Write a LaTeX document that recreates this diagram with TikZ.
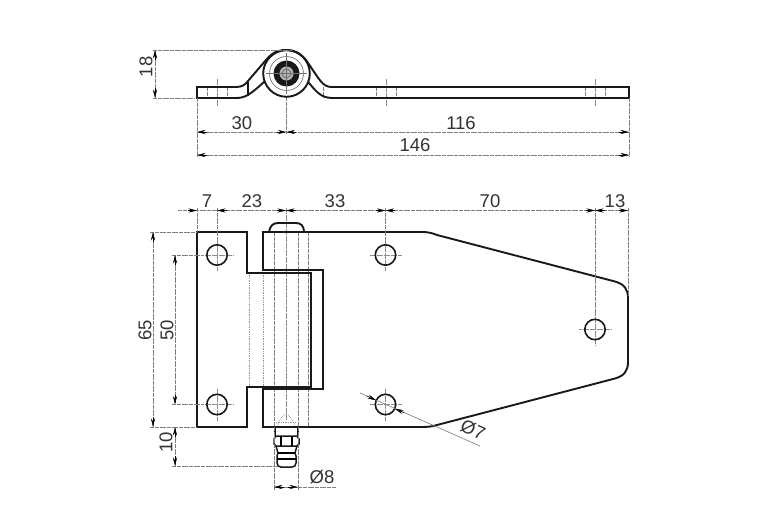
\documentclass[tikz,border=0pt]{standalone}
\usepackage{fontspec}
\setmainfont{Liberation Sans}
\usetikzlibrary{arrows.meta}
\tikzset{
  outl/.style={line width=1.9pt,black!90,line join=miter},
  thinl/.style={line width=0.7pt,black!50,dash pattern=on 2pt off 0.4pt},
  cline/.style={line width=0.7pt,black!45,dash pattern=on 3pt off 0.5pt},
  hid/.style={line width=0.7pt,black!40,densely dotted},
  dimtip/.style={line width=0.5pt,black,-{Stealth[length=8.5pt,width=4.2pt]}},
  lbl/.style={font=\fontsize{18.5}{18.5}\selectfont,text=black!80,inner sep=0pt,anchor=center}
}
\newcommand{\holemark}[2]{%
  \draw[cline] (#1-16,#2)--(#1+16,#2) (#1,#2-16)--(#1,#2+16);
  \draw[line width=1.6pt,black!90] (#1,#2) circle (10.2);}
\begin{document}
\begin{tikzpicture}[x=1pt,y=-1pt]
\useasboundingbox (0,0) rectangle (782,529);
\fill[white] (0,0) rectangle (782,529);

% ---------- top view ----------
\foreach \xx in {217,386,595}{
  \draw[cline] (\xx,79)--(\xx,107);
  \draw[thinl] (\xx-10,87)--(\xx-10,98) (\xx+10,87)--(\xx+10,98);
}
\draw[thinl] (323,87)--(323,98);
\draw[thinl] (286.5,97)--(286.5,134);
% leaf
\draw[outl] (308,82) .. controls (314,88) and (319,98) .. (332,98) -- (629,98) -- (629,87) -- (332,87)
  .. controls (322,87) and (320,80) .. (306,60) .. controls (300,53) and (295,50) .. (286,50)
  .. controls (277,50) and (272,53) .. (266,60) -- (248,81) .. controls (245,85) and (242,87) .. (236,87)
  -- (197,87) -- (197,98) -- (236,98) .. controls (245,98) and (250,95) .. (265,81);
\draw[outl,line width=1.3pt] (248,82)--(248,96);
% knuckle
\draw[outl] (286.5,73.5) circle (23.3);
\draw[line width=0.6pt,black!60] (286.5,73.5) circle (17);
\fill[black!90] (286.5,73.5) circle (13);
\fill[black!30] (286.5,73.5) circle (7);
\draw[line width=0.6pt,black!65] (286.5,73.5) circle (4.5);
\draw[line width=0.6pt,black!55] (266,73.5)--(307,73.5) (286.5,53)--(286.5,94);

% ---------- dimensions top view ----------
\draw[thinl] (153,50)--(292,50) (153,98)--(195,98);
\draw[thinl] (197,98)--(197,157) (629,98)--(629,157);
\draw[thinl] (155,50)--(155,98);
\draw[dimtip] (155,60)--(155,50);
\draw[dimtip] (155,88)--(155,98);
\node[lbl,rotate=90] (d18) at (146,67) {18};
\draw[thinl] (197,132)--(629,132) (197,155)--(629,155);
\draw[dimtip] (207,132)--(197,132);
\draw[dimtip] (277,132)--(286.5,132);
\draw[dimtip] (296,132)--(286.5,132);
\draw[dimtip] (619,132)--(629,132);
\draw[dimtip] (207,155)--(197,155);
\draw[dimtip] (619,155)--(629,155);
\node[lbl] (d30) at (242,123) {30};
\node[lbl] (d116) at (461,123) {116};
\node[lbl] (d146) at (415,145) {146};

% ---------- front view ----------
\draw[hid] (249,273)--(249,387) (263,273)--(263,387);
\draw[thinl] (274,232)--(274,427) (298,232)--(298,427) (308,232)--(308,427);
\draw[cline] (286,208)--(286,420);
\draw[hid] (277,427) .. controls (279,419) and (283,415) .. (286,414) .. controls (289,415) and (293,419) .. (295,427);
\draw[hid] (276,422)--(296,422);
% left leaf
\draw[outl] (197,232) -- (247,232) -- (247,273) -- (311,273) -- (311,387) -- (247,387) -- (247,427) -- (197,427) -- cycle;
% right leaf
\draw[outl] (263,270) -- (323,270) -- (323,389) -- (263,389) -- (263,427) -- (422,427)
  .. controls (428,427) and (432,426.5) .. (437,425) -- (615,378.5) .. controls (624,376) and (628,371) .. (628,362)
  -- (628,298) .. controls (628,289) and (624,284) .. (615,281.5) -- (437,235) .. controls (432,233) and (428,232) .. (422,232)
  -- (263,232) -- cycle;
% pin head
\draw[outl] (269,232) .. controls (270,226) and (273,223) .. (278,223) -- (296,223) .. controls (301,223) and (304,226) .. (304,232);
% holes
\holemark{217}{255}
\holemark{217}{404.5}
\holemark{385.5}{255}
\holemark{385.5}{404.5}
\holemark{595}{329.5}
% grease nipple
\draw[outl,line width=1.5pt] (275,427)--(275,436) (298,427)--(298,436);
\draw[outl,line width=1.5pt] (276,436) -- (297,436) -- (299,439) -- (299,444) -- (297,446) -- (276,446) -- (274,444) -- (274,439) -- cycle;
\draw[line width=1.1pt] (281,436)--(281,446) (292,436)--(292,446);
\draw[outl,line width=1.5pt] (276,446) -- (278,453) -- (277,456) -- (277,463) .. controls (277,466) and (279,467) .. (281,467) -- (292,467)
  .. controls (294,467) and (296,466) .. (296,463) -- (296,456) -- (295,453) -- (297,446);
\draw[line width=1.1pt] (278,453)--(295,453) (277,459)--(296,459);

% ---------- dimensions front view ----------
\draw[thinl] (178,210.5)--(628,210.5);
\draw[thinl] (197,208)--(197,232) (628,208)--(628,296) (217,208)--(217,239) (385.5,208)--(385.5,239) (595,208)--(595,314);
\draw[dimtip] (188,210.5)--(197,210.5);
\draw[dimtip] (227,210.5)--(217,210.5);
\draw[dimtip] (277,210.5)--(286,210.5);
\draw[dimtip] (296,210.5)--(286,210.5);
\draw[dimtip] (376,210.5)--(385.5,210.5);
\draw[dimtip] (395,210.5)--(385.5,210.5);
\draw[dimtip] (586,210.5)--(595,210.5);
\draw[dimtip] (605,210.5)--(595,210.5);
\draw[dimtip] (619,210.5)--(628,210.5);
\node[lbl] (d7) at (207,201) {7};
\node[lbl] (d23) at (252,201) {23};
\node[lbl] (d33) at (335,201) {33};
\node[lbl] (d70) at (490,201) {70};
\node[lbl] (d13) at (615,201) {13};

\draw[thinl] (150,232)--(197,232) (150,427)--(197,427);
\draw[thinl] (172,255)--(201,255) (172,404.5)--(201,404.5) (172,466)--(277,466);
\draw[thinl] (153,232)--(153,427) (175,255)--(175,404.5) (175,427)--(175,466);
\draw[dimtip] (153,242)--(153,232);
\draw[dimtip] (153,417)--(153,427);
\draw[dimtip] (175,265)--(175,255);
\draw[dimtip] (175,395)--(175,404.5);
\draw[dimtip] (175,437)--(175,427);
\draw[dimtip] (175,456)--(175,466);
\node[lbl,rotate=90] (d65) at (145,330) {65};
\node[lbl,rotate=90] (d50) at (167,330) {50};
\node[lbl,rotate=90] (d10) at (166,442) {10};

\draw[thinl] (274,427)--(274,490) (298,427)--(298,490);
\draw[thinl] (274,487)--(336,487);
\draw[dimtip] (284,487)--(274,487);
\draw[dimtip] (288,487)--(298,487);
\node[lbl] (dd8) at (322,477) {Ø8};

\draw[thinl] (360,393)--(480,446);
\draw[dimtip] (367,396)--(376,400.3);
\draw[dimtip] (404,412.7)--(395,408.7);
\node[lbl,rotate=-24] (dd7) at (473,430) {Ø7};
\end{tikzpicture}
\end{document}
